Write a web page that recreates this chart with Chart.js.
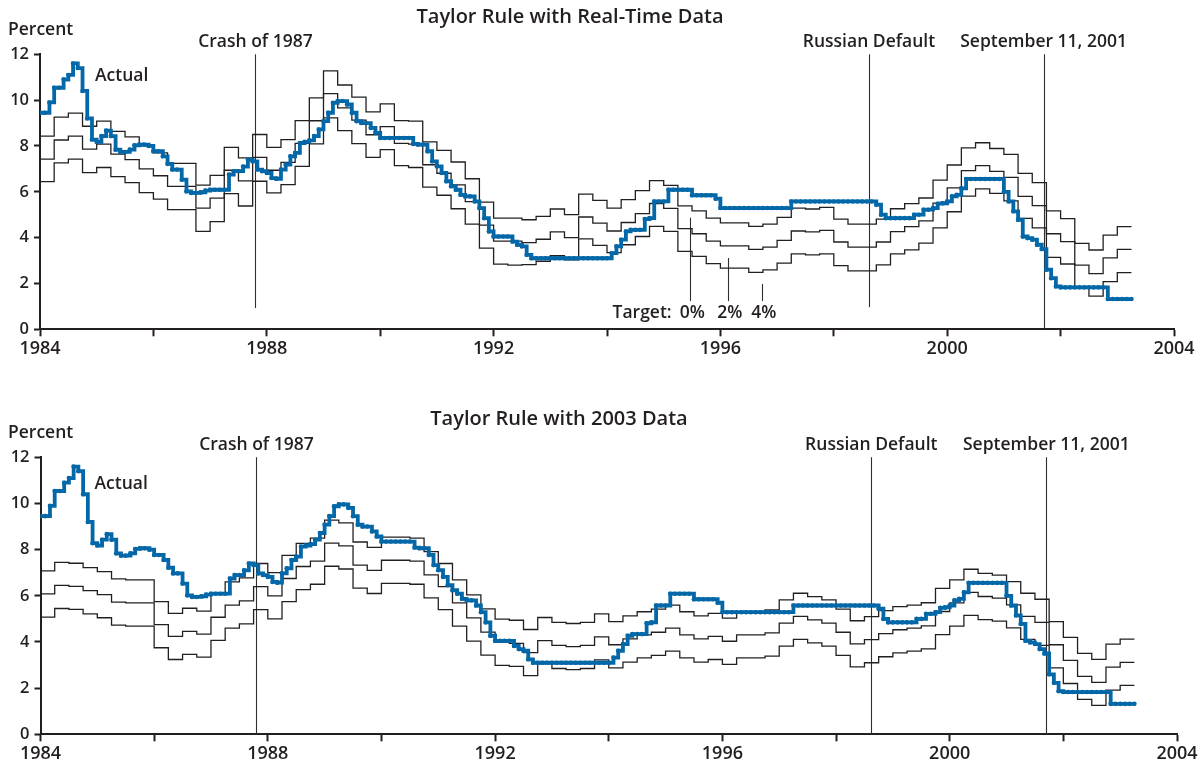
<!DOCTYPE html>
<html>
<head>
<meta charset="utf-8">
<title>Taylor Rule</title>
<script src="https://cdn.jsdelivr.net/npm/chart.js@4.4.1/dist/chart.umd.min.js"></script>
<style>
  html, body { margin: 0; padding: 0; background: #ffffff; }
  body { width: 1201px; height: 766px; position: relative; overflow: hidden; }
  .panel { position: absolute; left: 0; width: 1201px; height: 383px; }
  .panel canvas { display: block; }
</style>
</head>
<body>
<div class="panel" style="top:0"><canvas id="realTimeChart" width="1201" height="383"></canvas></div>
<div class="panel" style="top:383px"><canvas id="finalDataChart" width="1201" height="383"></canvas></div>
<script>
// ---- data -------------------------------------------------------------
const firstYear = 1984;
const xTickLabels = [1984, 1988, 1992, 1996, 2000, 2004];
const yTickValues = [0, 2, 4, 6, 8, 10, 12];

// Federal funds rate, monthly from Jan 1984 to Mar 2003
const actualRate = [
  9.45, 9.45, 9.90, 10.54, 10.54, 10.90, 11.10, 11.60, 11.40, 10.40, 9.20, 8.28,
  8.18, 8.43, 8.67, 8.43, 7.84, 7.74, 7.74, 7.84, 8.03, 8.06, 8.06, 8.00,
  7.77, 7.77, 7.55, 7.22, 6.97, 6.97, 6.53, 6.02, 5.95, 5.95, 5.98, 6.05,
  6.09, 6.09, 6.09, 6.09, 6.75, 6.90, 6.90, 7.10, 7.40, 7.33, 6.97, 6.90,
  6.82, 6.60, 6.57, 6.97, 7.19, 7.55, 7.70, 8.13, 8.18, 8.24, 8.43, 8.72,
  9.08, 9.45, 9.88, 9.96, 9.96, 9.81, 9.45, 9.08, 9.00, 9.00, 8.79, 8.57,
  8.35, 8.35, 8.35, 8.35, 8.35, 8.35, 8.35, 8.09, 8.06, 8.06, 7.77, 7.33,
  7.11, 6.82, 6.46, 6.24, 6.09, 5.87, 5.80, 5.80, 5.58, 5.29, 4.85, 4.27,
  4.05, 4.05, 4.05, 4.05, 3.83, 3.69, 3.62, 3.25, 3.10, 3.10, 3.10, 3.10,
  3.10, 3.10, 3.10, 3.10, 3.10, 3.10, 3.10, 3.10, 3.10, 3.10, 3.10, 3.10,
  3.10, 3.32, 3.62, 3.91, 4.27, 4.34, 4.34, 4.34, 4.81, 4.85, 5.58, 5.58,
  5.58, 6.09, 6.09, 6.09, 6.09, 6.09, 5.85, 5.85, 5.85, 5.85, 5.85, 5.70,
  5.29, 5.29, 5.29, 5.29, 5.29, 5.29, 5.29, 5.29, 5.29, 5.29, 5.29, 5.29,
  5.29, 5.29, 5.29, 5.58, 5.58, 5.58, 5.58, 5.58, 5.58, 5.58, 5.58, 5.58,
  5.58, 5.58, 5.58, 5.58, 5.58, 5.58, 5.58, 5.58, 5.58, 5.44, 5.00, 4.85,
  4.85, 4.85, 4.85, 4.85, 4.85, 5.00, 5.00, 5.22, 5.22, 5.29, 5.48, 5.50,
  5.58, 5.80, 5.87, 6.15, 6.56, 6.56, 6.56, 6.56, 6.56, 6.56, 6.56, 6.56,
  6.00, 5.58, 5.15, 4.78, 4.05, 3.98, 3.91, 3.69, 3.50, 2.60, 2.23, 1.87,
  1.83, 1.83, 1.83, 1.83, 1.83, 1.83, 1.83, 1.83, 1.83, 1.83, 1.32, 1.32,
  1.32, 1.32, 1.32
];

// Taylor rule with real-time data, quarterly 1984Q1-2003Q1, by inflation target
const realTimeTarget0 = [
  8.43, 9.26, 9.43, 8.86,  9.08, 8.64, 8.40, 8.00,  7.70, 7.24, 7.24, 6.29,
  6.72, 7.94, 7.48, 8.50,  7.94, 8.28, 9.11, 10.10, 11.28, 10.66, 10.13, 9.49,
  9.84, 9.11, 9.08, 8.18,  7.81, 7.30, 6.57, 5.55,  4.85, 4.85, 4.78, 4.93,
  5.25, 5.00, 5.90, 5.63,  5.29, 5.66, 6.05, 6.49,  6.28, 5.39, 5.17, 4.85,
  4.64, 4.64, 4.49, 4.59,  4.88, 5.29, 5.25, 5.32,  4.81, 4.59, 4.59, 4.81,
  5.26, 5.48, 5.73, 6.51,  7.17, 7.92, 8.14, 7.89,  7.63, 6.80, 6.40, 5.17,
  4.83, 3.75, 3.46, 4.11,  4.48
];
const realTimeTarget2 = [
  7.43, 8.26, 8.43, 7.86,  8.08, 7.64, 7.40, 7.00,  6.70, 6.24, 6.24, 5.29,
  5.72, 6.94, 6.48, 7.50,  6.94, 7.28, 8.11, 9.10,  10.28, 9.66, 9.13, 8.49,
  8.84, 8.11, 8.08, 7.18,  6.81, 6.30, 5.57, 4.55,  3.85, 3.85, 3.78, 3.93,
  4.25, 4.00, 4.90, 4.63,  4.29, 4.66, 5.05, 5.49,  5.28, 4.39, 4.17, 3.85,
  3.64, 3.64, 3.49, 3.59,  3.88, 4.29, 4.25, 4.32,  3.81, 3.59, 3.59, 3.81,
  4.26, 4.48, 4.73, 5.51,  6.17, 6.92, 7.14, 6.89,  6.63, 5.80, 5.40, 4.17,
  3.83, 2.80, 2.43, 3.12,  3.49
];
const realTimeTarget4 = [
  6.44, 7.26, 7.43, 6.84,  7.06, 6.66, 6.40, 5.96,  5.68, 5.22, 5.22, 4.27,
  4.70, 5.92, 5.38, 6.46,  5.95, 6.31, 7.11, 8.09,  9.23, 8.67, 8.10, 7.50,
  7.84, 7.14, 7.06, 6.20,  5.85, 5.26, 4.59, 3.54,  2.84, 2.80, 2.82, 2.97,
  3.21, 3.03, 3.95, 3.66,  3.35, 3.69, 4.05, 4.49,  4.27, 3.40, 3.18, 2.87,
  2.67, 2.67, 2.48, 2.59,  2.89, 3.29, 3.25, 3.29,  2.78, 2.55, 2.55, 2.81,
  3.29, 3.47, 3.76, 4.43,  5.13, 5.81, 6.13, 5.93,  5.60, 4.84, 4.43, 3.14,
  2.85, 1.83, 1.45, 2.08,  2.47
];

// Taylor rule with 2003 data, quarterly 1984Q1-2003Q1, by inflation target
const finalDataTarget0 = [
  7.08, 7.45, 7.41, 7.22,  7.05, 6.73, 6.69, 6.69,  5.75, 5.24, 5.46, 5.34,
  6.07, 6.60, 6.78, 7.40,  7.00, 7.75, 8.27, 8.50,  9.28, 9.16, 8.33, 8.10,
  8.54, 8.54, 8.50, 7.91,  7.40, 6.69, 6.04, 5.43,  4.99, 4.94, 4.54, 5.06,
  4.85, 4.80, 4.85, 5.22,  4.88, 5.13, 5.31, 5.42,  5.60, 5.31, 5.13, 5.24,
  5.03, 5.31, 5.31, 5.39,  5.82, 6.11, 5.96, 5.82,  5.42, 4.92, 5.10, 5.36,
  5.53, 5.60, 5.70, 6.32,  6.69, 7.15, 6.97, 6.90,  6.61, 6.11, 5.85, 4.88,
  4.20, 3.51, 3.25, 3.91,  4.12
];
const finalDataTarget2 = [
  6.08, 6.45, 6.41, 6.22,  6.05, 5.73, 5.69, 5.69,  4.75, 4.24, 4.46, 4.34,
  5.07, 5.60, 5.78, 6.40,  6.00, 6.75, 7.27, 7.50,  8.28, 8.16, 7.33, 7.10,
  7.54, 7.54, 7.50, 6.91,  6.40, 5.69, 5.04, 4.43,  3.99, 3.94, 3.54, 4.06,
  3.85, 3.80, 3.85, 4.22,  3.88, 4.13, 4.31, 4.42,  4.60, 4.31, 4.13, 4.24,
  4.03, 4.31, 4.31, 4.39,  4.82, 5.11, 4.96, 4.82,  4.42, 3.92, 4.10, 4.36,
  4.53, 4.60, 4.70, 5.32,  5.69, 6.15, 5.97, 5.90,  5.61, 5.11, 4.85, 3.88,
  3.20, 2.51, 2.25, 2.91,  3.12
];
const finalDataTarget4 = [
  5.08, 5.45, 5.41, 5.22,  5.05, 4.73, 4.69, 4.69,  3.75, 3.24, 3.46, 3.34,
  4.07, 4.60, 4.78, 5.40,  5.00, 5.75, 6.27, 6.50,  7.28, 7.16, 6.33, 6.10,
  6.54, 6.54, 6.50, 5.91,  5.40, 4.69, 4.04, 3.43,  2.99, 2.94, 2.54, 3.06,
  2.85, 2.80, 2.85, 3.22,  2.88, 3.13, 3.31, 3.42,  3.60, 3.31, 3.13, 3.24,
  3.03, 3.31, 3.31, 3.39,  3.82, 4.11, 3.96, 3.82,  3.42, 2.92, 3.10, 3.36,
  3.53, 3.60, 3.70, 4.32,  4.69, 5.15, 4.97, 4.90,  4.61, 4.11, 3.85, 2.88,
  2.20, 1.51, 1.25, 1.91,  2.12
];

// Marked events (decimal year)
const eventNames = ['Crash of 1987', 'Russian Default', 'September 11, 2001'];
const eventYears = [1987.80, 1998.62, 2001.70];

// "Target" key under the real-time panel
const targetKeyLabels = ['0%', '2%', '4%'];
const targetKeyYears = [1995.47, 1996.13, 1996.73];
const targetKeyTops = [4.87, 3.11, 1.98];

// ---- drawing ----------------------------------------------------------
const ink = '#231f20';
const actualBlue = '#0468a8';
const family = '"Open Sans", "DejaVu Sans", sans-serif';
const labelFont = '600 17.5px ' + family;
const titleFont = '600 20px ' + family;

// Each value holds from the start of its period until the next one begins.
function stepPoints(values, perYear) {
  const pts = values.map((v, i) => ({ x: firstYear + i / perYear, y: v }));
  // close the last period so its step has full length
  pts.push({ x: firstYear + values.length / perYear, y: values[values.length - 1] });
  return pts;
}

function ruleDataset(values) {
  return {
    data: stepPoints(values, 4),
    stepped: 'before',
    borderColor: ink,
    borderWidth: 1.3,
    pointRadius: 0,
    fill: false,
    order: 2
  };
}

function actualDataset() {
  return {
    data: stepPoints(actualRate, 12),
    stepped: 'before',
    borderColor: actualBlue,
    backgroundColor: actualBlue,
    borderWidth: 3.8,
    pointRadius: 2.3,
    pointBorderWidth: 0,
    pointHoverRadius: 0,
    fill: false,
    order: 1
  };
}

function overlay(cfg) {
  return {
    id: 'overlay',
    beforeDatasetsDraw(chart) {
      const ctx = chart.ctx, x = chart.scales.x, y = chart.scales.y;
      ctx.save();
      ctx.strokeStyle = '#2e2e2e';
      ctx.lineWidth = 1.1;
      eventYears.forEach((yr, i) => {
        const px = Math.round(x.getPixelForValue(yr)) + 0.5;
        ctx.beginPath();
        ctx.moveTo(px, y.getPixelForValue(12));
        ctx.lineTo(px, y.getPixelForValue(cfg.eventLineEnds[i]));
        ctx.stroke();
      });
      if (cfg.targetKey) {
        targetKeyYears.forEach((yr, i) => {
          const px = Math.round(x.getPixelForValue(yr)) + 0.5;
          ctx.beginPath();
          ctx.moveTo(px, y.getPixelForValue(targetKeyTops[i]));
          ctx.lineTo(px, y.getPixelForValue(1.23));
          ctx.stroke();
        });
      }
      ctx.restore();
    },
    afterDraw(chart) {
      const ctx = chart.ctx, x = chart.scales.x, y = chart.scales.y;
      ctx.save();
      ctx.fillStyle = ink;
      ctx.textBaseline = 'middle';

      ctx.font = titleFont;
      ctx.textAlign = 'center';
      ctx.fillText(cfg.title, cfg.titleX, cfg.titleY);

      ctx.font = labelFont;
      ctx.textAlign = 'left';
      ctx.fillText('Percent', 8, cfg.percentY);

      ctx.textAlign = 'center';
      const lineTop = y.getPixelForValue(12);
      eventNames.forEach((name, i) => {
        ctx.fillText(name, x.getPixelForValue(eventYears[i]), lineTop - 12);
      });

      ctx.textAlign = 'left';
      ctx.fillText('Actual', x.getPixelForValue(cfg.actualLabel[0]), y.getPixelForValue(cfg.actualLabel[1]));

      if (cfg.targetKey) {
        const ty = y.getPixelForValue(0.71);
        ctx.textAlign = 'right';
        ctx.fillText('Target:', x.getPixelForValue(1995.14), ty);
        ctx.textAlign = 'center';
        targetKeyLabels.forEach((lab, i) => {
          ctx.fillText(lab, x.getPixelForValue(targetKeyYears[i]) + 2, ty);
        });
      }
      ctx.restore();
    }
  };
}

function buildChart(canvasId, cfg) {
  return new Chart(document.getElementById(canvasId), {
    type: 'line',
    data: {
      datasets: [actualDataset()].concat(cfg.rules.map(ruleDataset))
    },
    options: {
      responsive: false,
      devicePixelRatio: 1,
      animation: false,
      events: [],
      layout: { padding: cfg.padding },
      plugins: { legend: { display: false }, tooltip: { enabled: false }, title: { display: false } },
      scales: {
        x: {
          type: 'linear',
          min: xTickLabels[0],
          max: xTickLabels[xTickLabels.length - 1],
          afterFit: (s) => { s.height = cfg.xAxisHeight; },
          ticks: {
            stepSize: 2,
            autoSkip: false,
            maxRotation: 0,
            padding: 2,
            color: ink,
            font: { family: family, size: 18, weight: '600' },
            callback: (v) => (xTickLabels.includes(v) ? String(v) : '')
          },
          grid: { display: true, drawOnChartArea: false, drawTicks: true, tickLength: 7, tickWidth: 2, tickColor: ink, color: ink },
          border: { display: true, color: ink, width: 2 }
        },
        y: {
          min: yTickValues[0],
          max: yTickValues[yTickValues.length - 1],
          afterFit: (s) => { s.width = cfg.yAxisWidth; },
          afterBuildTicks: (s) => { s.ticks = yTickValues.map((v) => ({ value: v })); },
          ticks: { padding: 5, color: ink, font: { family: family, size: 16.5, weight: '600' } },
          grid: { display: true, drawOnChartArea: false, drawTicks: true, tickLength: 6, tickWidth: 2, tickColor: ink, color: ink },
          border: { display: true, color: ink, width: 2 }
        }
      }
    },
    plugins: [overlay(cfg)]
  });
}

function buildAll() {
  buildChart('realTimeChart', {
    title: 'Taylor Rule with Real-Time Data',
    titleX: 570, titleY: 17, percentY: 30,
    rules: [realTimeTarget0, realTimeTarget2, realTimeTarget4],
    eventLineEnds: [0.93, 0.97, 0],
    actualLabel: [1984.97, 11.04],
    targetKey: true,
    yAxisWidth: 40,
    xAxisHeight: 40,
    padding: { left: 0, top: 54.3, right: 27, bottom: 13.7 }
  });
  buildChart('finalDataChart', {
    title: 'Taylor Rule with 2003 Data',
    titleX: 559, titleY: 36, percentY: 50,
    rules: [finalDataTarget0, finalDataTarget2, finalDataTarget4],
    eventLineEnds: [0, 0, 0],
    actualLabel: [1984.95, 10.85],
    targetKey: false,
    yAxisWidth: 40.5,
    xAxisHeight: 30,
    padding: { left: 0, top: 74.3, right: 24, bottom: 1.7 }
  });
}

if (document.fonts && document.fonts.load) {
  Promise.all([
    document.fonts.load('600 17.5px "Open Sans"'),
    document.fonts.load('600 20px "Open Sans"')
  ]).then(buildAll, buildAll);
} else {
  buildAll();
}
</script>
</body>
</html>
